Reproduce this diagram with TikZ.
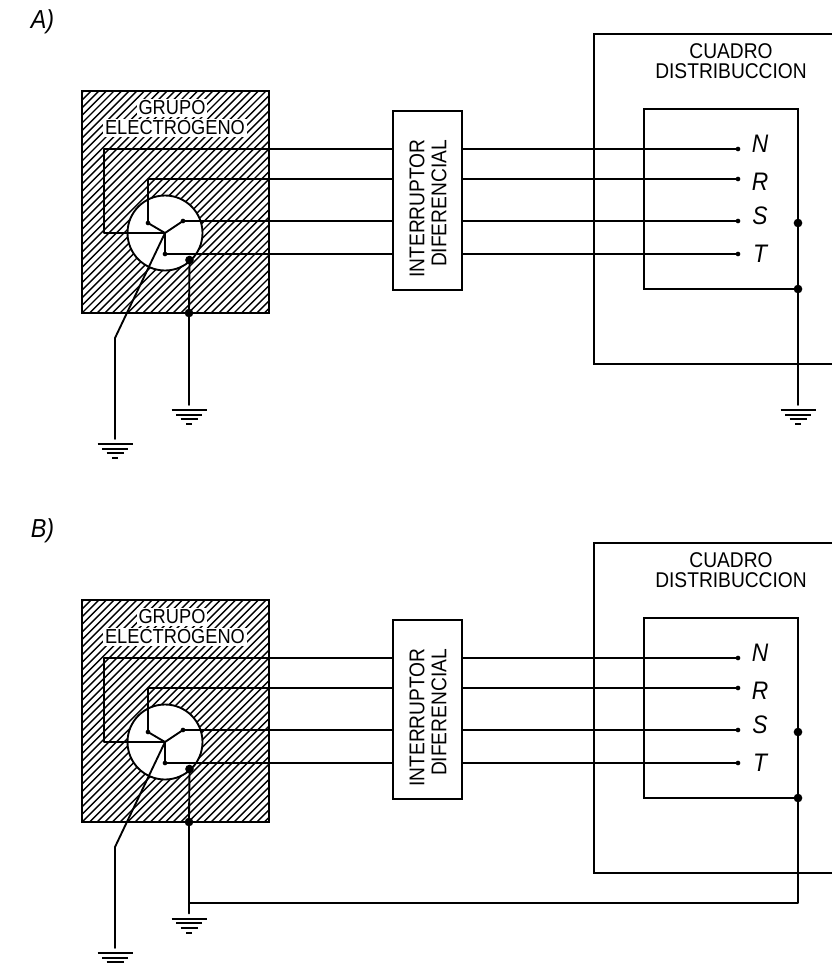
\documentclass[tikz,border=0pt]{standalone}
\usepackage{fontspec}
\setmainfont{Liberation Sans}[FakeStretch=0.9]
\begin{document}
\begin{tikzpicture}[x=0.75pt,y=-0.75pt,
  wire/.style={line width=1.4pt,line cap=round,line join=round},
  groundbar/.style={line width=1.5pt},
  frame/.style={line width=1.4pt,line join=miter},
  hatchline/.style={line width=1.05pt},
  smalldot/.style={circle,fill=black,inner sep=0pt,minimum size=3.5pt},
  bigdot/.style={circle,fill=black,inner sep=0pt,minimum size=6.5pt},
  junction/.style={inner sep=0pt,minimum size=0pt},
  caption/.style={font=\fontsize{16}{16}\selectfont,inner sep=0pt},
  gencaption/.style={font=\fontsize{15.2}{16}\selectfont,inner sep=1.2pt,fill=white},
  phase/.style={font=\fontsize{19}{20}\selectfont\itshape,inner sep=0pt},
  panel/.style={font=\fontsize{19.5}{20}\selectfont\itshape,inner sep=0pt}]
\useasboundingbox (0,0) rectangle (832,965);
\newcommand{\groundsym}[2]{% x, y of top bar
  \draw[groundbar] (#1-17.5,#2) -- (#1+17.5,#2);
  \draw[groundbar] (#1-13,#2+4.5) -- (#1+13,#2+4.5);
  \draw[groundbar] (#1-8.5,#2+9) -- (#1+8.5,#2+9);
  \draw[groundbar] (#1-3,#2+14) -- (#1+3,#2+14);
}
\newcommand{\circuit}[2]{% prefix, y offset
  \begin{scope}
    \clip (82,91+#2) rectangle (269,313+#2);
    \foreach \k in {-32,...,26} {
      \draw[hatchline] (82+\k*7.6,313+#2) -- ++(240,-240);
    }
  \end{scope}
  \draw[frame] (82,91+#2) rectangle (269,313+#2);
  \fill[white] (165,233+#2) circle (37.5);
  \draw[wire] (165,233+#2) circle (37.5);
  \node[gencaption] (#1gena) at (172,108+#2) {GRUPO};
  \node[gencaption] (#1genb) at (175,128+#2) {ELECTROGENO};
  \node[draw,frame,fill=white,minimum width=51.75pt,minimum height=134.25pt,inner sep=0pt] (#1dif) at (427.5,200.5+#2) {};
  \node[caption,rotate=90] (#1difa) at (417,208.5+#2) {INTERRUPTOR};
  \node[caption,rotate=90] (#1difb) at (439,203.5+#2) {DIFERENCIAL};
  \draw[frame] (832,34+#2) -- (594,34+#2) -- (594,364+#2) -- (832,364+#2);
  \node[caption] (#1cuadroa) at (731,51+#2) {CUADRO};
  \node[caption] (#1cuadrob) at (731,71+#2) {DISTRIBUCCION};
  \coordinate (#1ibl) at (644,289+#2);
  \coordinate (#1itl) at (644,109+#2);
  \coordinate (#1itr) at (798,109+#2);
  \node[bigdot] (#1ibr) at (798,289+#2) {};
  \node[bigdot] (#1sd) at (798,223+#2) {};
  \draw[frame] (#1ibr.center) -- (#1ibl) -- (#1itl) -- (#1itr) -- (#1ibr.center);
  \node[junction] (#1c) at (165,233+#2) {};
  \node[smalldot] (#1r) at (148,223+#2) {};
  \node[smalldot] (#1s) at (183,221+#2) {};
  \node[smalldot] (#1t) at (165,254+#2) {};
  \node[smalldot] (#1en) at (738,149+#2) {};
  \node[smalldot] (#1er) at (738,179+#2) {};
  \node[smalldot] (#1es) at (738,221+#2) {};
  \node[smalldot] (#1et) at (738,254+#2) {};
  \node[phase] (#1ln) at (760,144+#2) {N};
  \node[phase] (#1lr) at (760,182+#2) {R};
  \node[phase] (#1ls) at (760,216+#2) {S};
  \node[phase] (#1lt) at (760,254+#2) {T};
  \draw[wire] (#1c.center) -- (104,233+#2) -- (104,149+#2) -- (393,149+#2);
  \draw[wire] (#1c.center) -- (#1r.center) -- (148,179+#2) -- (393,179+#2);
  \draw[wire] (#1c.center) -- (#1s.center) -- (393,221+#2);
  \draw[wire] (#1c.center) -- (#1t.center) -- (393,254+#2);
  \draw[wire] (462,149+#2) -- (#1en.center);
  \draw[wire] (462,179+#2) -- (#1er.center);
  \draw[wire] (462,221+#2) -- (#1es.center);
  \draw[wire] (462,254+#2) -- (#1et.center);
  \node[bigdot] (#1pe) at (189.5,260+#2) {};
  \node[bigdot] (#1pf) at (189,313+#2) {};
  \draw[wire] (#1pe.center) -- (#1pf.center);
  \draw[wire] (#1c.center) -- (115,338+#2) -- (115,439+#2);
  \groundsym{115}{444+#2}
}
\circuit{a}{0}
\circuit{b}{509}
% Panel A earthing
\draw[wire] (apf.center) -- (189,405);
\groundsym{189}{410}
\draw[wire] (asd.center) -- (798,405);
\groundsym{798}{410}
% Panel B earthing
\coordinate (bjn) at (189,903);
\draw[wire] (bpf.center) -- (189,913.5);
\groundsym{189}{918.5}
\draw[wire] (bjn) -- (798,903) -- (bsd.center);
\node[panel] (pa) at (42.5,22) {A)};
\node[panel] (pb) at (42.5,531) {B)};
\end{tikzpicture}
\end{document}
